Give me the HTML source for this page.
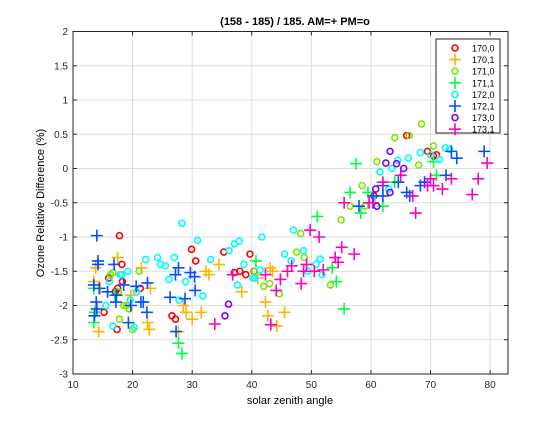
<!DOCTYPE html>
<html><head><meta charset="utf-8"><style>
body{margin:0;background:#fff;font-family:"Liberation Sans",sans-serif}
svg text{font-family:"Liberation Sans",sans-serif}
</style></head><body>
<svg id="chart" width="560" height="420">
<rect width="560" height="420" fill="#fff"/>
<g id="grid"></g>
<g id="marks"></g>
<rect x="73" y="31.5" width="435" height="342.5" fill="none" stroke="#262626" stroke-width="1"/>
<g id="ticks"></g>
<text x="295" y="25" text-anchor="middle" font-size="11" font-weight="bold">(158 - 185) / 185.  AM=+ PM=o</text>
<text x="290" y="404" text-anchor="middle" font-size="11">solar zenith angle</text>
<text transform="translate(44,203) rotate(-90)" text-anchor="middle" font-size="11">Ozone Relative Difference (%)</text>
<g id="legend"></g>
</svg>
<script>
const xTicks=[10,20,30,40,50,60,70,80];
const yTicks=[-3,-2.5,-2,-1.5,-1,-0.5,0,0.5,1,1.5,2];
const seriesNames=["170,0","170,1","171,0","171,1","172,0","172,1","173,0","173,1"];
const seriesColors=["#ff0000","#ffb400","#80e600","#00ff40","#00ffff","#0050ff","#8000ff","#ff00c0"];
const seriesMarkers=["o","+","o","+","o","+","o","+"];
const s170_0=[[17.8,-0.98],[16,-1.6],[17.5,-1.75],[18.3,-1.65],[17.1,-1.8],[18.2,-1.4],[21.3,-1.75],[15.2,-2.1],[17.4,-2.35],[26.6,-2.15],[27.2,-2.2],[29.9,-1.18],[30.6,-1.35],[35.3,-1.22],[37.1,-1.52],[38,-1.5],[39.7,-1.25],[40.4,-1.5],[39,-1.55],[60.5,-0.4],[66,0.48],[69.5,0.25],[70.5,0.18],[71,0.2]];
const s170_1=[[13.8,-1.45],[14.3,-2.38],[13.5,-1.65],[14.6,-1.75],[17.5,-1.3],[19.7,-1.85],[21.5,-1.45],[22.5,-2.25],[23,-1.75],[22.8,-2.35],[28.5,-2.0],[29,-2.1],[30,-2.2],[31.5,-2.1],[32.3,-1.5],[32.8,-1.55],[34.5,-1.4],[38.3,-1.8],[41,-1.6],[42.3,-1.95],[43.1,-1.45],[43.5,-1.5],[42.7,-2.15],[44.2,-2.3],[45.5,-2.1],[27.7,-2.38]];
const s171_0=[[16.3,-1.55],[16.7,-1.52],[17.6,-1.8],[18.5,-2.0],[19,-2.0],[19.4,-2.05],[17.8,-2.2],[20,-2.35],[21.1,-1.5],[40.5,-1.5],[42,-1.72],[43,-1.68],[44.6,-1.83],[47.5,-1.22],[48.2,-0.95],[48.8,-1.3],[53.2,-1.7],[55,-0.75],[56.5,-0.55],[58.5,-0.25],[61,0.1],[64,0.45],[66.4,0.48],[68.5,0.65],[71.5,0.85],[70.5,0.33],[59,-0.55],[68,0.05]];
const s171_1=[[13.5,-1.75],[13.7,-2.1],[13.5,-2.25],[17,-1.85],[27.7,-2.55],[28.3,-2.7],[40.7,-1.35],[51,-0.7],[53.5,-1.45],[54.2,-1.65],[55.5,-2.05],[56.5,-0.35],[57.5,0.07],[59.5,-0.35],[58.3,-0.65],[62,-0.55],[64,-0.2],[70.5,0.1],[72,0.65],[71,-0.1]];
const s172_0=[[15.5,-2.0],[16.7,-2.3],[16.1,-1.65],[17.9,-1.55],[18.2,-1.55],[19.2,-1.5],[19.6,-1.92],[20.3,-2.32],[20.7,-1.8],[22.2,-1.33],[24.2,-1.3],[24.7,-1.4],[25.5,-1.42],[26.1,-1.62],[27,-1.3],[28.3,-0.8],[27.8,-1.92],[28.9,-1.65],[30.9,-1.05],[31.8,-1.86],[33.1,-1.33],[36.2,-1.2],[37.1,-1.1],[37.9,-1.06],[37.6,-1.7],[38.7,-1.4],[40.2,-1.6],[41.7,-1.0],[40.5,-1.6],[41.4,-1.48],[45.5,-1.25],[46.6,-1.35],[47,-0.9],[48.7,-1.2],[49.4,-1.5],[50.8,-1.4],[51.5,-1.32],[51.8,-1.55],[60.2,-0.45],[61.5,-0.05],[63.5,0.0],[64.5,0.12],[66.3,0.15],[68.3,0.23],[70,0.2],[71.5,0.13],[72.5,0.3],[73.2,0.28],[63,-0.3]];
const s172_1=[[14,-0.98],[14.2,-1.35],[14.2,-1.4],[13.5,-1.7],[14.4,-1.75],[13.9,-1.95],[14,-2.05],[13.6,-2.15],[15.8,-1.8],[17.2,-1.95],[17.3,-1.85],[16.9,-1.4],[18.5,-1.7],[19.3,-2.25],[19.7,-2.0],[20.6,-1.72],[21.4,-1.95],[21.8,-1.95],[22.4,-2.1],[22.5,-1.67],[26.3,-1.88],[27.2,-1.55],[27.7,-1.45],[28.8,-1.9],[29.7,-1.52],[30.5,-1.78],[30.4,-1.58],[27.3,-2.38],[58,-0.55],[60.4,-0.4],[62,-0.25],[62,-0.4],[64.6,-0.2],[66.5,-0.4],[68.3,-0.25],[66,-0.35],[73.5,0.25],[74.4,0.15],[72.6,-0.1],[79,0.25],[69,-0.2]];
const s173_0=[[36.1,-1.98],[35.5,-2.15],[61,-0.55],[62.5,0.08],[65.5,0.0],[63.2,-0.35],[60.8,-0.3],[63.2,0.25],[64.3,0.07]];
const s173_1=[[33.8,-2.27],[43.2,-2.28],[36.8,-1.55],[42.3,-1.55],[44.1,-1.78],[44.8,-1.62],[46,-1.5],[46.7,-1.42],[48.3,-1.68],[48.7,-1.5],[49.2,-1.4],[50.5,-1.5],[52,-1.48],[54,-1.3],[54.5,-1.37],[55.1,-1.15],[57.2,-1.25],[49.8,-0.9],[51.3,-1.0],[55.5,-0.5],[59.7,-0.5],[60.3,-0.5],[62,-0.2],[65,-0.1],[67,-0.4],[67.5,-0.65],[69.5,-0.25],[70.5,-0.25],[72,-0.3],[73.5,-0.15],[77,-0.38],[78,-0.15],[79.5,0.08],[70,-0.15]];
const allSeries=[s170_0,s170_1,s171_0,s171_1,s172_0,s172_1,s173_0,s173_1];

const NS="http://www.w3.org/2000/svg";
const X0=73,X1=508,Y0=374,Y1=31.5,xmin=10,xmax=83,ymin=-3,ymax=2;
function xs(v){return X0+(v-xmin)/(xmax-xmin)*(X1-X0);}
function ys(v){return Y0-(v-ymin)/(ymax-ymin)*(Y0-Y1);}
function mk(tag,attrs,parent){const e=document.createElementNS(NS,tag);for(const k in attrs)e.setAttribute(k,attrs[k]);parent.appendChild(e);return e;}
const grid=document.getElementById('grid'),ticks=document.getElementById('ticks'),marks=document.getElementById('marks'),legend=document.getElementById('legend');
xTicks.forEach(t=>{const x=xs(t);
 const g=mk('line',{x1:x,x2:x,y1:Y1,y2:Y0,stroke:'#dedede','stroke-width':1},grid);
 
 
 mk('line',{x1:x,x2:x,y1:Y0,y2:Y0-4,stroke:'#262626'},ticks);
 mk('line',{x1:x,x2:x,y1:Y1,y2:Y1+4,stroke:'#262626'},ticks);
 const l=mk('text',{x:x,y:Y0+14,'text-anchor':'middle','font-size':10,fill:'#262626'},ticks);l.textContent=t;
 
 
});
yTicks.forEach(t=>{const y=ys(t);
 const g=mk('line',{x1:X0,x2:X1,y1:y,y2:y,stroke:'#dedede','stroke-width':1},grid);
 
 
 mk('line',{x1:X0,x2:X0+4,y1:y,y2:y,stroke:'#262626'},ticks);
 mk('line',{x1:X1,x2:X1-4,y1:y,y2:y,stroke:'#262626'},ticks);
 const l=mk('text',{x:X0-5,y:y+3.5,'text-anchor':'end','font-size':10,fill:'#262626'},ticks);l.textContent=t;
 
 
});
function marker(par,type,cx,cy,col){
 if(type==='o'){return mk('circle',{cx:cx,cy:cy,r:3,fill:'none',stroke:col,'stroke-width':1.6},par);}
 return mk('path',{d:`M${cx-6},${cy}H${cx+6}M${cx},${cy-6}V${cy+6}`,stroke:col,'stroke-width':1.6,fill:'none'},par);
}
allSeries.forEach((s,i)=>{s.forEach(p=>{const m=marker(marks,seriesMarkers[i],xs(p[0]),ys(p[1]),seriesColors[i]);
 
 
});});
const lb=mk('rect',{x:436,y:39,width:64,height:94,fill:'#fff',stroke:'#262626'},legend);


seriesNames.forEach((n,i)=>{const y=48+i*11.6;
 const m=marker(legend,seriesMarkers[i],455,y,seriesColors[i]);
 
 
 const t=mk('text',{x:472,y:y+3.5,'font-size':9,fill:'#000'},legend);t.textContent=n;
 
 
});
</script>
</body></html>
